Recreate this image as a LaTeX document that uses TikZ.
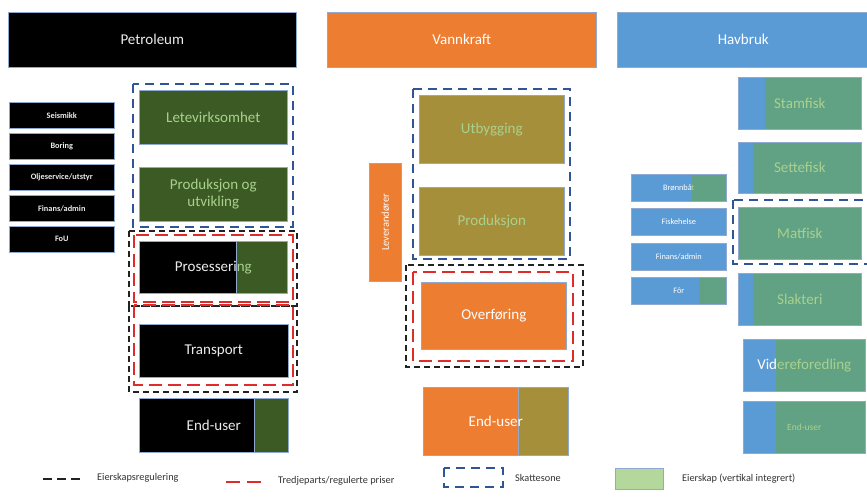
\documentclass[tikz,border=0pt]{standalone}
\usepackage{fontspec}
\setmainfont{Carlito}
\definecolor{pgreen}{HTML}{3B5A24}
\definecolor{hgreen}{HTML}{61A284}
\definecolor{olive}{HTML}{A68F3A}
\definecolor{lgreen}{HTML}{A9D18E}
\definecolor{hblue}{HTML}{5B9BD5}
\definecolor{orng}{HTML}{ED7D31}
\definecolor{bordc}{HTML}{8FA9D0}
\definecolor{dblue}{HTML}{2F5597}
\definecolor{dred}{HTML}{E02B2B}
\definecolor{dblack}{HTML}{222222}
\definecolor{wtxt}{HTML}{ECECEC}
\definecolor{legtxt}{HTML}{333333}
\definecolor{leggreen}{HTML}{B4D79C}
\tikzset{
  box/.style={draw=bordc, line width=0.6pt, inner sep=1pt, align=center, anchor=north west},
  big/.style={font=\fontsize{15}{17}\selectfont},
  mid/.style={font=\fontsize{8.3}{10}\selectfont\bfseries},
  tiny/.style={font=\fontsize{8.3}{10}\selectfont},
  legt/.style={font=\fontsize{10.3}{12}\selectfont, text=legtxt, anchor=west, inner sep=0pt},
  bframe/.style={draw=dblue, line width=2.2pt, dash pattern=on 9pt off 6pt},
  kframe/.style={draw=dblack, line width=2.2pt, dash pattern=on 6pt off 4pt},
  rframe/.style={draw=dred, line width=2.2pt, dash pattern=on 13pt off 6pt},
  divider/.style={draw=bordc, line width=0.6pt},
}
\begin{document}
\begin{tikzpicture}[x=1pt,y=-1pt]
\useasboundingbox (0,0) rectangle (867,496);
\fill[white] (0,0) rectangle (867,496);

% ===== Headers =====
\node[box, fill=black, text=wtxt, big, minimum width=288, minimum height=55] (hpet) at (8,12) {Petroleum};
\node[box, fill=orng, text=white, big, minimum width=269, minimum height=55] (hvann) at (327,12) {Vannkraft};
\node[box, fill=hblue, text=white, big, minimum width=252, minimum height=55] (hhav) at (617,12) {Havbruk};

% ===== Petroleum =====
\node[box, fill=black, text=wtxt, mid, minimum width=105, minimum height=26] (seis) at (9,102) {Seismikk};
\node[box, fill=black, text=wtxt, mid, minimum width=105, minimum height=26] (bor) at (9,133) {Boring};
\node[box, fill=black, text=wtxt, mid, minimum width=105, minimum height=26] (olje) at (9,164) {Oljeservice/utstyr};
\node[box, fill=black, text=wtxt, mid, minimum width=105, minimum height=26] (fin) at (9,195) {Finans/admin};
\node[box, fill=black, text=wtxt, mid, minimum width=105, minimum height=26] (fou) at (9,226) {FoU};

\node[box, fill=pgreen, text=lgreen, big, minimum width=148, minimum height=54] (lete) at (139,90) {Letevirksomhet};
\node[box, fill=pgreen, text=lgreen, big, minimum width=148, minimum height=54] (prodpet) at (139,167) {Produksjon og\\utvikling};

\node[box, fill=black, text=wtxt, big, minimum width=148, minimum height=52] (pros) at (139,241) {Prosessering};
\begin{scope}
  \clip (236,241) rectangle (287,293);
  \fill[pgreen] (236,241) rectangle (287,293);
  \node[big, text=lgreen] at (pros.center) {Prosessering};
\end{scope}
\draw[divider] (236,241) -- (236,293);

\node[box, fill=black, text=wtxt, big, minimum width=149, minimum height=53] (trans) at (139,324) {Transport};

\node[box, fill=black, text=wtxt, big, minimum width=149, minimum height=54] (endpet) at (139,398) {};
\fill[pgreen] (254,398) rectangle (288,452);
\draw[divider] (254,398) -- (254,452);
\node[big, text=wtxt] at (endpet.center) {End-user};

\draw[bframe] (133,84) rectangle (293,227);
\draw[kframe] (129,231) rectangle (297,306);
\draw[kframe] (129,306) rectangle (297,392);
\draw[rframe] (134,235) rectangle (293,302);
\draw[rframe] (134,305) rectangle (293,385);

% ===== Vannkraft =====
\node[box, fill=olive, text=lgreen, big, minimum width=145, minimum height=68] (utb) at (419,95) {Utbygging};
\node[box, fill=olive, text=lgreen, big, minimum width=145, minimum height=68] (prodv) at (419,187) {Produksjon};
\node[box, fill=orng, minimum width=32, minimum height=118] (lev) at (369,163) {};
\node[rotate=90, text=white, font=\fontsize{10.5}{12}\selectfont] at (lev.center) {Leverandører};
\node[box, fill=orng, text=white, big, minimum width=145, minimum height=67] (overf) at (421,282) {Overføring};
\node[box, fill=orng, minimum width=145, minimum height=68] (endv) at (423,387) {};
\fill[olive] (518,387) rectangle (568,455);
\draw[divider] (518,387) -- (518,455);
\node[big, text=white] at (endv.center) {End-user};

\draw[bframe] (413,89) rectangle (570,259);
\draw[kframe] (406,265) rectangle (583,367);
\draw[rframe] (413,272) rectangle (573,361);

% ===== Havbruk =====
\node[box, fill=hblue, minimum width=123, minimum height=52] (stam) at (738,77) {};
\fill[hgreen] (765,77) rectangle (861,129);
\node[big, text=lgreen] at (stam.center) {Stamfisk};

\node[box, fill=hblue, minimum width=123, minimum height=51] (sette) at (738,142) {};
\fill[hgreen] (753,142) rectangle (861,193);
\node[big, text=lgreen] at (sette.center) {Settefisk};

\node[box, fill=hgreen, text=lgreen, big, minimum width=123, minimum height=52] (mat) at (738,207) {Matfisk};

\node[box, fill=hblue, minimum width=123, minimum height=52] (slakt) at (738,273) {};
\fill[hgreen] (753,273) rectangle (861,325);
\node[big, text=lgreen] at (slakt.center) {Slakteri};

\node[box, fill=hblue, text=white, big, minimum width=122, minimum height=52] (vider) at (743,339) {Videreforedling};
\begin{scope}
  \clip (776,339) rectangle (865,391);
  \fill[hgreen] (776,339) rectangle (865,391);
  \node[big, text=lgreen] at (vider.center) {Videreforedling};
\end{scope}

\node[box, fill=hblue, minimum width=122, minimum height=52] (endh) at (743,401) {};
\fill[hgreen] (776,401) rectangle (865,453);
\node[font=\fontsize{9.5}{11}\selectfont, text=lgreen] at (endh.center) {End-user};

\node[box, fill=hblue, text=white, tiny, minimum width=95, minimum height=27] (bronn) at (631,174) {Brønnbåt};
\begin{scope}
  \clip (692,174) rectangle (726,201);
  \fill[hgreen] (692,174) rectangle (726,201);
  \node[tiny, text=lgreen] at (bronn.center) {Brønnbåt};
\end{scope}
\node[box, fill=hblue, text=white, tiny, minimum width=95, minimum height=27] (fiskh) at (631,208) {Fiskehelse};
\node[box, fill=hblue, text=white, tiny, minimum width=95, minimum height=27] (finh) at (631,243) {Finans/admin};
\node[box, fill=hblue, text=white, tiny, minimum width=95, minimum height=27] (forh) at (631,277) {Fôr};
\fill[hgreen] (699,277) rectangle (726,304);

% redraw borders of split boxes
\foreach \n in {pros,endpet,endv,stam,sette,slakt,vider,endh,bronn,forh}
  \draw[divider] (\n.north west) rectangle (\n.south east);

\draw[bframe] (733,200) rectangle (869,264);

% ===== Legend =====
\coordinate (lk1) at (43,479);
\coordinate (lk2) at (82,479);
\draw[dblack, line width=2.5pt, dash pattern=on 9pt off 5pt] (lk1) -- (lk2);
\node[legt] (lkt) at (97,478) {Eierskapsregulering};
\coordinate (lr1) at (226,482);
\coordinate (lr2) at (268,482);
\draw[dred, line width=2.5pt, dash pattern=on 14pt off 7pt] (lr1) -- (lr2);
\node[legt] (lrt) at (278,481) {Tredjeparts/regulerte priser};
\draw[dblue, line width=2.2pt, dash pattern=on 9pt off 6pt] (444,468) rectangle (503,487);
\node[legt] (lbt) at (515,478) {Skattesone};
\node[box, fill=leggreen, draw=bordc, minimum width=48, minimum height=21] (lg) at (615,468) {};
\node[legt] (lgt) at (682,479) {Eierskap (vertikal integrert)};
\end{tikzpicture}
\end{document}
